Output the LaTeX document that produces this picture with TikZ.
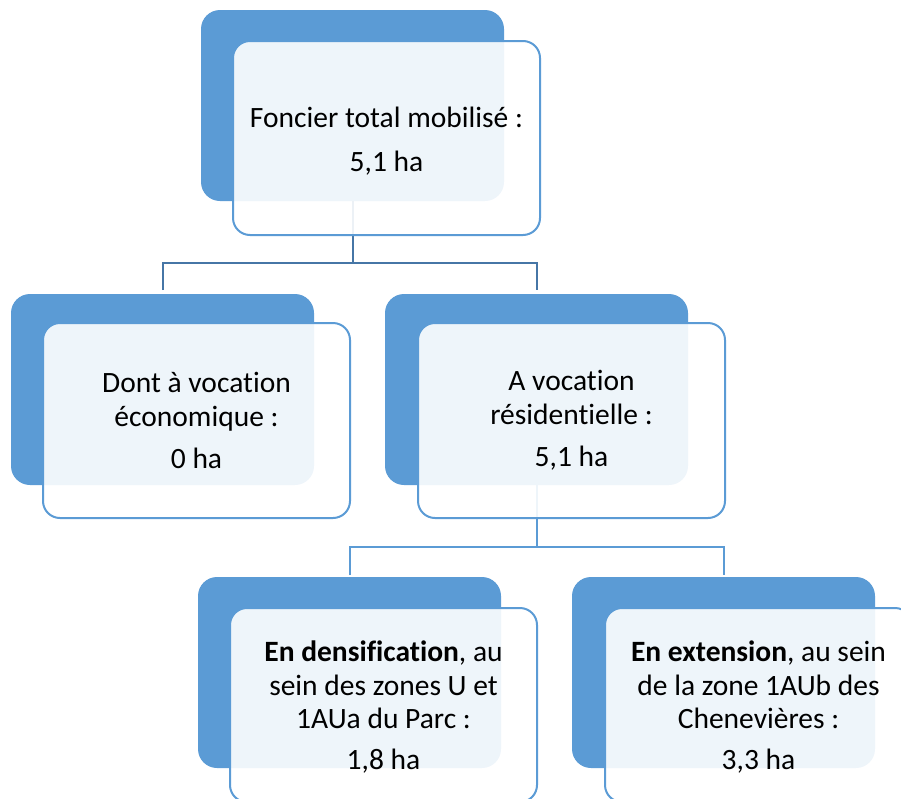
\documentclass[tikz,border=0pt]{standalone}
\usepackage{fontspec}
\setmainfont[Ligatures=NoCommon]{Carlito}
\definecolor{boxblue}{RGB}{91,155,213}
\definecolor{linkdark}{RGB}{70,118,166}
\begin{document}
\begin{tikzpicture}[x=1pt,y=-1pt,
  back/.style={fill=boxblue, rounded corners=19pt, minimum width=303pt, minimum height=191pt, inner sep=0pt, outer sep=0pt, anchor=north west},
  front/.style={draw=boxblue, line width=2pt, fill=white, fill opacity=0.9, text opacity=1, rounded corners=17pt, minimum width=307pt, minimum height=194pt, inner sep=0pt, outer sep=0pt, anchor=north west, align=center, font=\fontsize{29.5}{33.5}\selectfont},
  boxtext/.style={inner sep=0pt, align=center, font=\fontsize{29.5}{33.5}\selectfont},
  linkone/.style={draw=linkdark, line width=2pt},
  linktwo/.style={draw=boxblue, line width=2pt}]
\useasboundingbox (0,0) rectangle (901,798);
\clip (0,0) rectangle (901,798);
% back boxes
\node[back] (b0) at (201,10) {};
\node[back] (b1) at (11,294) {};
\node[back] (b2) at (385,294) {};
\node[back] (b3) at (198,577) {};
\node[back] (b4) at (572,577) {};
% connectors
\coordinate (j1) at (0,263);
\coordinate (j2) at (0,547);
\draw[linkone] (b0.south) -- (b0.south |- j1);
\draw[linkone] ([yshift=4pt]b1.north) -- (b1.north |- j1) -- (b2.north |- j1) -- ([yshift=4pt]b2.north);
\draw[linktwo] (b2.south) -- (b2.south |- j2);
\draw[linktwo] ([yshift=2pt]b3.north) -- (b3.north |- j2) -- (b4.north |- j2) -- ([yshift=2pt]b4.north);
% front boxes
\node[front] (f0) at (233,41) {};
\node[boxtext] (t0) at ([yshift=-3pt]f0.center) {Foncier total mobilisé :\\[11pt]5,1 ha};
\node[front, minimum height=195pt] (f1) at (43,323) {Dont à vocation\\économique :\\[9pt]0 ha};
\node[front, minimum height=195pt] (f2) at (418,323) {A vocation\\résidentielle :\\[9pt]5,1 ha};
\node[front] (f3) at (230,608) {};
\node[boxtext] (t3) at ([yshift=-2pt]f3.center) {\textbf{En densification}, au\\sein des zones U et\\1AUa du Parc :\\[7pt]1,8 ha};
\node[front] (f4) at (605,608) {};
\node[boxtext] (t4) at ([yshift=-2pt]f4.center) {\textbf{En extension}, au sein\\de la zone 1AUb des\\Chenevières :\\[7pt]3,3 ha};
\end{tikzpicture}
\end{document}
